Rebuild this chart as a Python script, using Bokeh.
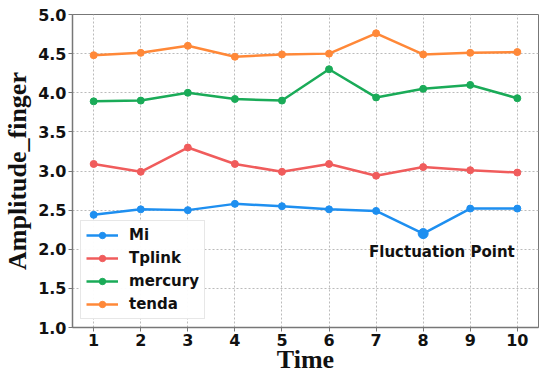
from bokeh.plotting import figure
from bokeh.models import Legend, LegendItem, Label, FixedTicker, NumeralTickFormatter
from bokeh.embed import file_html
from bokeh.resources import INLINE

time = [1, 2, 3, 4, 5, 6, 7, 8, 9, 10]
mi = [2.44, 2.51, 2.50, 2.58, 2.55, 2.51, 2.49, 2.20, 2.52, 2.52]
tplink = [3.09, 2.99, 3.30, 3.09, 2.99, 3.09, 2.94, 3.05, 3.01, 2.98]
mercury = [3.89, 3.90, 4.00, 3.92, 3.90, 4.30, 3.94, 4.05, 4.10, 3.93]
tenda = [4.48, 4.51, 4.60, 4.46, 4.49, 4.50, 4.76, 4.49, 4.51, 4.52]
names = ["Mi", "Tplink", "mercury", "tenda"]
colors = ["#1E8FF0", "#F05C5C", "#1AAB58", "#FF8838"]
y_ticks = [1.0, 1.5, 2.0, 2.5, 3.0, 3.5, 4.0, 4.5, 5.0]
fluct_index = 7
fluct_text = "Fluctuation Point"

p = figure(width=548, height=377, output_backend="svg", toolbar_location=None,
           x_range=(0.55, 10.45), y_range=(1.0, 5.0),
           min_border_left=67, min_border_top=14, min_border_right=10, min_border_bottom=50)

items = []
for name, ys, c in zip(names, [mi, tplink, mercury, tenda], colors):
    r1 = p.line(time, ys, line_color=c, line_width=2.5)
    r2 = p.scatter(time, ys, size=7, fill_color=c, line_color=c)
    items.append(LegendItem(label=name, renderers=[r1, r2]))

p.scatter([time[fluct_index]], [mi[fluct_index]], size=10, fill_color=colors[0], line_color=colors[0])

p.add_layout(Label(x=time[fluct_index] - 1.15, y=mi[fluct_index] - 0.24, text=fluct_text,
                   text_font="DejaVu Sans", text_font_style="bold", text_font_size="15px",
                   text_baseline="middle", text_color="#111111"))

legend = Legend(items=items, location=(8, 8), label_text_font="DejaVu Sans",
                label_text_font_style="bold", label_text_font_size="15px",
                label_text_color="#111111",
                glyph_width=32, glyph_height=16, label_height=16, spacing=5, padding=5,
                label_standoff=11, margin=0,
                border_line_color="#d0d0d0", border_line_width=1, background_fill_alpha=0.95)
p.add_layout(legend, "center")

p.xaxis.ticker = FixedTicker(ticks=time)
p.yaxis.ticker = FixedTicker(ticks=y_ticks)
p.yaxis.formatter = NumeralTickFormatter(format="0.0")
for ax in [p.xaxis, p.yaxis]:
    ax.major_label_text_font = "DejaVu Sans"
    ax.major_label_text_font_style = "bold"
    ax.major_label_text_font_size = "16px"
    ax.major_label_text_color = "#111111"
    ax.axis_label_text_font = "Liberation Serif"
    ax.axis_label_text_font_style = "bold"
    ax.axis_label_text_font_size = "26px"
    ax.axis_label_text_color = "#111111"
    ax.minor_tick_line_color = None
    ax.major_tick_out = 4
    ax.major_tick_in = 0
    ax.axis_line_color = "#777777"
    ax.axis_line_width = 1.5
    ax.major_tick_line_color = "#777777"
    ax.major_label_standoff = 2
p.xaxis.axis_label = "Time"
p.yaxis.axis_label = "Amplitude_finger"
p.xaxis.axis_label_standoff = -4
p.yaxis.axis_label_standoff = 3

p.grid.grid_line_color = "#bbbbbb"
p.grid.grid_line_dash = "2 2"
p.grid.grid_line_width = 1
p.outline_line_color = "#777777"
p.outline_line_width = 1
p.background_fill_color = "white"
p.border_fill_color = "white"

open("out.html", "w").write(file_html(p, INLINE))
